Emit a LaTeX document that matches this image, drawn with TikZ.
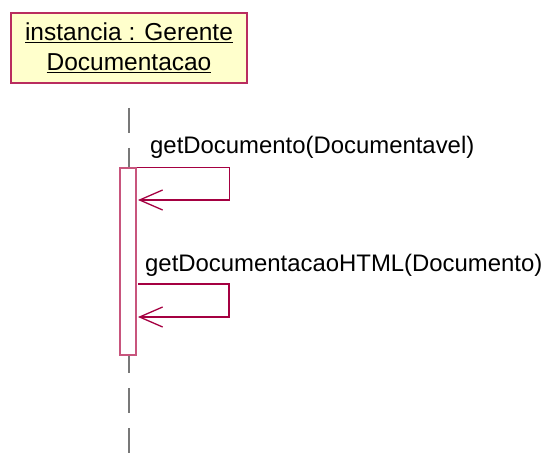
\documentclass[tikz,border=0pt]{standalone}
\usepackage{fontspec}
\setmainfont{Liberation Sans}
\usepackage{tikz}
\usetikzlibrary{arrows.meta, positioning, calc}

\definecolor{objfill}{RGB}{255,255,204}
\definecolor{objline}{RGB}{185,45,95}
\definecolor{actline}{RGB}{200,85,125}
\definecolor{msgline}{RGB}{165,0,65}
\definecolor{lifegray}{RGB}{120,120,120}

\begin{document}
\begin{tikzpicture}[x=1pt, y=-1pt, >={Straight Barb[length=23pt, width=20pt]}]
        \tikzstyle{objbox} = [draw=objline, line width=1.2pt, fill=objfill, rectangle, minimum width=236pt, minimum height=70pt, align=center, inner sep=0pt, font=\fontsize{24.5}{30}\selectfont]
        \tikzstyle{actbox} = [draw=actline, line width=1.2pt, fill=white, rectangle, minimum width=16pt, minimum height=187pt, inner sep=0pt]
        \tikzstyle{lifeline} = [draw=lifegray, line width=1.3pt, dash pattern=on 25pt off 15pt]
        \tikzstyle{msg} = [draw=msgline, line width=1.3pt, ->]
        \tikzstyle{msglabel} = [anchor=base west, inner sep=0pt, font=\fontsize{23.9}{28}\selectfont]

        \useasboundingbox (0,0) rectangle (546,465);

        % Objeto
        \node [objbox] (obj) at (129,48) {\underline{instancia : Gerente}\\\underline{Documentacao}};

        % Linha de vida
        \coordinate (lifetop) at (129,108);
        \coordinate (lifebot) at (129,453);
        \draw [lifeline] (lifetop) -- (lifebot);

        % Ativacao
        \node [actbox] (act) at (128,261.5) {};

        % Mensagens para si mesmo
        \node [msglabel] (lbl1) at (150,154) {getDocumento(Documentavel)};
        \coordinate (ret1) at (138,200);
        \draw [msg] (act.north east) -- ++(93,0) |- (ret1);

        \node [msglabel] (lbl2) at (145,271) {getDocumentacaoHTML(Documento)};
        \coordinate (out2) at (138,284);
        \coordinate (ret2) at (138,317);
        \draw [msg] (out2) -- ++(91,0) |- (ret2);

    \end{tikzpicture}
\end{document}
